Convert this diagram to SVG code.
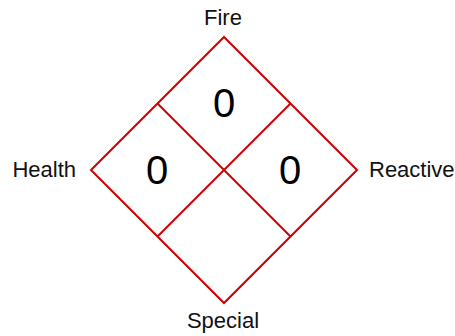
<svg xmlns="http://www.w3.org/2000/svg" width="455" height="336" viewBox="0 0 455 336">
<style>
.ln{stroke:#cc0000;stroke-width:2;fill:none;stroke-linejoin:miter}
.lbl{font-family:"Liberation Sans",Arial,sans-serif;font-size:22px;fill:#111}
.num{font-family:"Liberation Sans",Arial,sans-serif;font-size:40px;fill:#000;text-anchor:middle}
</style>
<rect width="455" height="336" fill="#fff"/>
<g id="connectors">
<path class="ln" d="M224 37 L357 170 L224 303 L91 170 Z"/>
<path class="ln" d="M157.5 103.5 L290.5 236.5"/>
<path class="ln" d="M290.5 103.5 L157.5 236.5"/>
</g>
<g id="fire"><text class="lbl" x="223" y="25" text-anchor="middle">Fire</text><text class="num" x="224" y="117">0</text></g>
<g id="health"><text class="lbl" x="76" y="177" text-anchor="end">Health</text><text class="num" x="157" y="184">0</text></g>
<g id="reactive"><text class="lbl" x="369" y="177">Reactive</text><text class="num" x="290" y="184">0</text></g>
<g id="special"><text class="lbl" x="223" y="328" text-anchor="middle">Special</text></g>
</svg>
